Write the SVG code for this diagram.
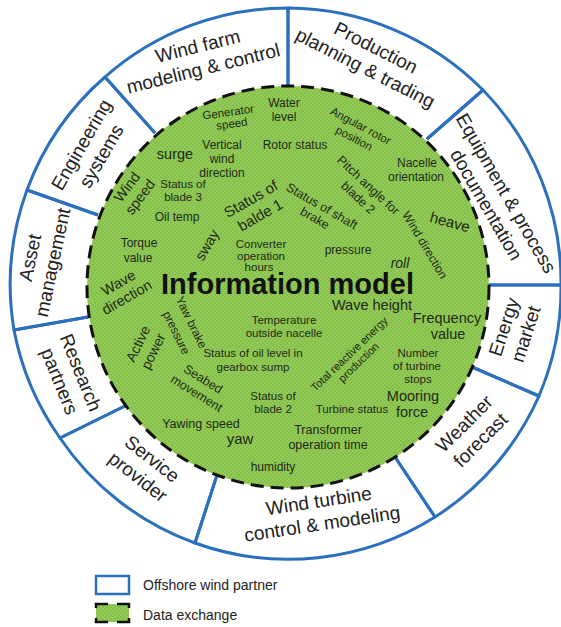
<svg xmlns="http://www.w3.org/2000/svg" width="561" height="627" viewBox="0 0 561 627">
<defs>
<pattern id="chk" width="4" height="4" patternUnits="userSpaceOnUse">
<rect width="4" height="4" fill="#93cb59"/>
<rect width="2" height="2" fill="#86bf4b"/>
<rect x="2" y="2" width="2" height="2" fill="#86bf4b"/>
</pattern>
<style>
.seg{fill:none;stroke:#2b70bd;stroke-width:3;stroke-linejoin:round}
.lbl{font-family:"Liberation Sans",Arial,sans-serif;font-size:19px;fill:#222;text-anchor:middle}
.dat{font-family:"Liberation Sans",Arial,sans-serif;fill:#1f2a17;text-anchor:middle}
.core{fill:url(#chk);stroke:#111;stroke-width:3;stroke-dasharray:13 7}
.leg{font-family:"Liberation Sans",Arial,sans-serif;font-size:14px;fill:#222}
</style>
</defs>
<rect width="561" height="627" fill="#fff"/>

<g id="partners">
<g id="wind-farm">
<path class="seg" d="M155 133 L105 77 A275.5 275.5 0 0 1 288 8 L288 87"/>
<text class="lbl" transform="translate(200.5 57.5) rotate(-14)"><tspan x="0" y="-5.2">Wind farm</tspan><tspan x="0" y="17.8">modeling &amp; control</tspan></text>
</g>
<g id="production">
<path class="seg" d="M288 87 L288 8 A275.5 275.5 0 0 1 483 90 L427 139"/>
<text class="lbl" transform="translate(370.5 58) rotate(27)"><tspan x="0" y="-5.2">Production</tspan><tspan x="0" y="17.8">planning &amp; trading</tspan></text>
</g>
<g id="equipment">
<path class="seg" d="M427 139 L483 90 A275.5 275.5 0 0 1 561 285 L489 285"/>
<text class="lbl" transform="translate(496 199) rotate(60)"><tspan x="0" y="-5.2">Equipment &amp; process</tspan><tspan x="0" y="17.8">documentation</tspan></text>
</g>
<g id="energy-market">
<path class="seg" d="M489 285 L561 285 A275.5 275.5 0 0 1 539 396 L472 367"/>
<text class="lbl" transform="translate(515 330.5) rotate(-72)"><tspan x="0" y="-5.2">Energy</tspan><tspan x="0" y="17.8">market</tspan></text>
</g>
<g id="weather">
<path class="seg" d="M472 367 L539 396 A275.5 275.5 0 0 1 435 517 L395 457"/>
<text class="lbl" transform="translate(472.5 432) rotate(-45)"><tspan x="0" y="-5.2">Weather</tspan><tspan x="0" y="17.8">forecast</tspan></text>
</g>
<g id="wind-turbine">
<path class="seg" d="M395 457 L435 517 A275.5 275.5 0 0 1 195 543 L217 475"/>
<text class="lbl" transform="translate(320.5 512.5) rotate(-8.5)"><tspan x="0" y="-5.2">Wind turbine</tspan><tspan x="0" y="17.8">control &amp; modeling</tspan></text>
</g>
<g id="service-provider">
<path class="seg" d="M217 475 L195 543 A275.5 275.5 0 0 1 60 438 L127 405"/>
<text class="lbl" transform="translate(145 468) rotate(38)"><tspan x="0" y="-5.2">Service</tspan><tspan x="0" y="17.8">provider</tspan></text>
</g>
<g id="research">
<path class="seg" d="M127 405 L60 438 A275.5 275.5 0 0 1 14 330 L88 317"/>
<text class="lbl" transform="translate(70 377) rotate(68)"><tspan x="0" y="-5.2">Research</tspan><tspan x="0" y="17.8">partners</tspan></text>
</g>
<g id="asset">
<path class="seg" d="M88 317 L14 330 A275.5 275.5 0 0 1 27 190 L98 215"/>
<text class="lbl" transform="translate(41.5 260) rotate(-78)"><tspan x="0" y="-5.2">Asset</tspan><tspan x="0" y="17.8">management</tspan></text>
</g>
<g id="engineering">
<path class="seg" d="M98 215 L27 190 A275.5 275.5 0 0 1 105 77 L155 133"/>
<text class="lbl" transform="translate(91.5 150.5) rotate(-60)"><tspan x="0" y="-5.2">Engineering</tspan><tspan x="0" y="17.8">systems</tspan></text>
</g>
</g>

<g id="information-model">
<circle class="core" cx="288" cy="287" r="201"/>
<g class="dat">
<text font-size="11.5" transform="translate(229 118) rotate(-8)"><tspan x="0" y="-2">Generator</tspan><tspan x="2" y="10">speed</tspan></text>
<text font-size="12" x="284"><tspan x="284" y="107.2">Water</tspan><tspan x="284" y="121.2">level</tspan></text>
<text font-size="11.5" transform="translate(357.5 132) rotate(28)"><tspan x="0" y="-3">Angular rotor</tspan><tspan x="0" y="11">position</tspan></text>
<text font-size="12" x="295" y="149.2">Rotor status</text>
<text font-size="12"><tspan x="222" y="149.2">Vertical</tspan><tspan x="222" y="163.2">wind</tspan><tspan x="222" y="177.2">direction</tspan></text>
<text font-size="14.5" x="175" y="159">surge</text>
<text font-size="11.5"><tspan x="183" y="188">Status of</tspan><tspan x="183" y="201">blade 3</tspan></text>
<text font-size="12" x="177" y="221.2">Oil temp</text>
<text font-size="14.5" transform="translate(133.5 192) rotate(-53)"><tspan x="0" y="-3.2">Wind</tspan><tspan x="0" y="13.2">speed</tspan></text>
<text font-size="15" transform="translate(255.5 207) rotate(-30)"><tspan x="0" y="-4">Status of</tspan><tspan x="0" y="14.5">balde 1</tspan></text>
<text font-size="12.5" transform="translate(318.5 212) rotate(30)"><tspan x="0" y="-2.6">Status of shaft</tspan><tspan x="0" y="11.4">brake</tspan></text>
<text font-size="12.5" transform="translate(363 191) rotate(43)"><tspan x="0" y="-3.6">Pitch angle for</tspan><tspan x="1" y="12.4">blade 2</tspan></text>
<text font-size="12"><tspan x="417" y="167.2">Nacelle</tspan><tspan x="416" y="181.2">orientation</tspan></text>
<text font-size="15" transform="translate(450 222) rotate(15)" y="5.2">heave</text>
<text font-size="12" transform="translate(425 245) rotate(59)" y="4.2">Wind direction</text>
<text font-size="12" x="348" y="254.2">pressure</text>
<text font-size="14" font-style="italic" x="400" y="267.5">roll</text>
<text font-size="11.5"><tspan x="261" y="247.5">Converter</tspan><tspan x="261" y="259.5">operation</tspan><tspan x="259" y="270.5">hours</tspan></text>
<text font-size="14.5" transform="translate(207 245) rotate(-60)" y="5">sway</text>
<text font-size="12"><tspan x="139" y="247.2">Torque</tspan><tspan x="138" y="262.2">value</tspan></text>
<text font-size="14.5" transform="translate(122.5 290) rotate(-30)"><tspan x="0" y="-3.3">Wave</tspan><tspan x="0" y="13.3">direction</tspan></text>
<text font-size="29" font-weight="bold" fill="#111" x="287.5" y="294">Information model</text>
<text font-size="14.5" x="372" y="310">Wave height</text>
<text font-size="14.5"><tspan x="447" y="323">Frequency</tspan><tspan x="448" y="339">value</tspan></text>
<text font-size="11.5"><tspan x="284" y="324">Temperature</tspan><tspan x="284" y="337">outside nacelle</tspan></text>
<text font-size="12" transform="translate(184 327.5) rotate(64)"><tspan x="-1.5" y="-4.8">Yaw brake</tspan><tspan x="1.5" y="13.2">pressure</tspan></text>
<text font-size="14" transform="translate(145.5 347.5) rotate(-64)"><tspan x="0" y="-3.6">Active</tspan><tspan x="0" y="13.4">power</tspan></text>
<text font-size="11.5"><tspan x="253" y="357">Status of oil level in</tspan><tspan x="253" y="371">gearbox sump</tspan></text>
<text font-size="11" transform="translate(353.5 358.5) rotate(-44)"><tspan x="0" y="-2.4">Total reactive energy</tspan><tspan x="1" y="10.1">production</tspan></text>
<text font-size="11.5"><tspan x="418" y="357">Number</tspan><tspan x="417" y="370">of turbine</tspan><tspan x="418" y="383">stops</tspan></text>
<text font-size="14.5"><tspan x="413" y="401">Mooring</tspan><tspan x="412" y="417">force</tspan></text>
<text font-size="12.5" transform="translate(200 386) rotate(32)"><tspan x="-1" y="-3.4">Seabed</tspan><tspan x="1" y="12.2">movement</tspan></text>
<text font-size="11.5"><tspan x="273" y="400">Status of</tspan><tspan x="273" y="413">blade 2</tspan></text>
<text font-size="11.5" x="352" y="413">Turbine status</text>
<text font-size="12.5" x="201" y="428.4">Yawing speed</text>
<text font-size="15" x="240" y="444">yaw</text>
<text font-size="12.5"><tspan x="328" y="434.4">Transformer</tspan><tspan x="328" y="449.4">operation time</tspan></text>
<text font-size="12" x="273" y="471.2">humidity</text>
</g>
</g>

<g id="legend">
<rect x="96" y="576" width="33" height="18" fill="#fff" stroke="#2b70bd" stroke-width="2.5"/>
<text class="leg" x="143" y="590">Offshore wind partner</text>
<rect x="96" y="604" width="33" height="18" fill="url(#chk)" stroke="#111" stroke-width="2.5" stroke-dasharray="12 9 16 10 16 9 16 10 4"/>
<text class="leg" x="143" y="620">Data exchange</text>
</g>
</svg>
